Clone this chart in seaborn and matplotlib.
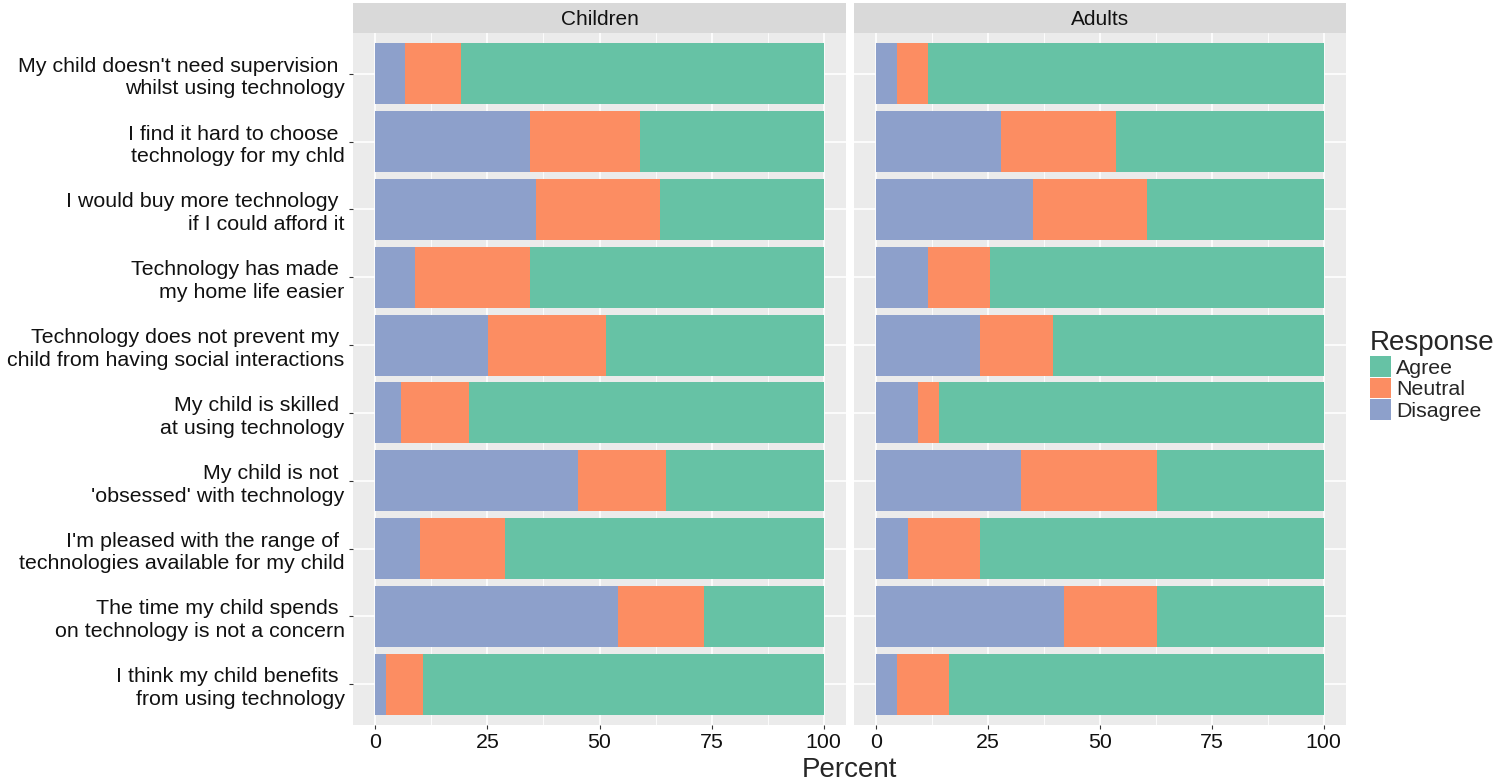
import numpy as np
import pandas as pd
import matplotlib
matplotlib.use("Agg")
import matplotlib.pyplot as plt
from matplotlib.patches import Patch
from matplotlib.ticker import MultipleLocator
import seaborn as sns

sns.set_style("darkgrid")
plt.rcParams['font.family'] = ['Liberation Sans', 'DejaVu Sans']

questions = [
    "My child doesn't need supervision \nwhilst using technology",
    "I find it hard to choose \ntechnology for my chld",
    "I would buy more technology \nif I could afford it",
    "Technology has made \nmy home life easier",
    "Technology does not prevent my \nchild from having social interactions",
    "My child is skilled \nat using technology",
    "My child is not \n'obsessed' with technology",
    "I'm pleased with the range of \ntechnologies available for my child",
    "The time my child spends \non technology is not a concern",
    "I think my child benefits \nfrom using technology",
]
groups = ["Children", "Adults"]
responses = ["Agree", "Neutral", "Disagree"]

children_disagree = [6.7, 34.4, 35.8, 8.8, 25.1, 5.6, 45.3, 10.0, 54.1, 2.3]
children_neutral = [12.3, 24.6, 27.7, 25.8, 26.3, 15.2, 19.5, 18.9, 19.3, 8.4]
children_agree = [81.0, 41.0, 36.5, 65.4, 48.6, 79.2, 35.2, 71.1, 26.6, 89.3]

adults_disagree = [4.7, 27.9, 35.0, 11.5, 23.2, 9.2, 32.4, 7.0, 41.9, 4.6]
adults_neutral = [6.8, 25.6, 25.5, 14.0, 16.4, 4.7, 30.3, 16.1, 20.8, 11.6]
adults_agree = [88.5, 46.5, 39.5, 74.5, 60.4, 86.1, 37.3, 76.9, 37.3, 83.8]

colors = dict(zip(responses, sns.color_palette("Set2", 3).as_hex()))

rows = []
for g, d, n, a in [("Children", children_disagree, children_neutral, children_agree),
                   ("Adults", adults_disagree, adults_neutral, adults_agree)]:
    for q, dv, nv, av in zip(questions, d, n, a):
        rows.append({"group": g, "question": q, "Disagree": dv, "Neutral": nv, "Agree": av})
df = pd.DataFrame(rows)
# cumulative ends for stacking (Disagree first from the left)
df["end_Disagree"] = df["Disagree"]
df["end_Neutral"] = df["Disagree"] + df["Neutral"]
df["end_Agree"] = df["end_Neutral"] + df["Agree"]

W, H = 1500, 782
fig = plt.figure(figsize=(W / 100, H / 100), dpi=100)

panel_x = {"Children": (353, 493), "Adults": (854, 492)}
panel_top, panel_bottom = 33, 725

for g in groups:
    x0, w = panel_x[g]
    ax = fig.add_axes([x0 / W, (H - panel_bottom) / H, w / W, (panel_bottom - panel_top) / H])
    sub = df[df["group"] == g]
    for r in responses:  # Agree (longest) drawn first
        sns.barplot(data=sub, x="end_" + r, y="question", order=questions,
                    color=colors[r], width=0.9, linewidth=0, errorbar=None,
                    saturation=1, ax=ax)
    ax.set_facecolor("#EBEBEB")
    ax.set_xlim(-5, 105)
    ax.set_ylim(9.6, -0.6)
    ax.set_xticks([0, 25, 50, 75, 100])
    ax.set_xticklabels(["0", "25", "50", "75", "100"])
    ax.xaxis.set_minor_locator(MultipleLocator(12.5))
    ax.set_axisbelow(True)
    ax.grid(True, which="major", color="white", linewidth=1.2)
    ax.grid(True, which="minor", axis="x", color="white", linewidth=0.6)
    ax.set_xlabel("")
    ax.set_ylabel("")
    for s in ax.spines.values():
        s.set_visible(False)
    ax.tick_params(axis="x", which="major", length=3, width=0.8, color="#333333",
                   labelsize=15.4, labelcolor="#111111", pad=3, bottom=True)
    ax.tick_params(axis="x", which="minor", length=0)
    if g == "Children":
        ax.tick_params(axis="y", length=3, width=0.8, color="#333333",
                       labelsize=15.4, labelcolor="#111111", pad=3, left=True)
        for lbl in ax.get_yticklabels():
            lbl.set_linespacing(1.25)
    else:
        ax.tick_params(axis="y", length=0, labelleft=False)

    strip = fig.add_axes([x0 / W, (H - panel_top) / H, w / W, 30 / H])
    strip.set_facecolor("#D9D9D9")
    strip.set_xticks([])
    strip.set_yticks([])
    for s in strip.spines.values():
        s.set_visible(False)
    strip.text(0.5, 0.45, g, ha="center", va="center", fontsize=15, color="#111111",
               transform=strip.transAxes)

fig.text(849.5 / W, 1 - 770 / H, "Percent", ha="center", va="center", fontsize=20)

handles = [Patch(facecolor=colors[r], edgecolor="none", label=r) for r in responses]
fig.legend(handles=handles, title="Response", loc="upper left",
           bbox_to_anchor=(1370 / W, 1 - 330 / H), frameon=False,
           fontsize=15.4, title_fontsize=20, handlelength=1.0, handleheight=1.12,
           handletextpad=0.22, labelspacing=0.0, borderpad=0, borderaxespad=0,
           alignment="left")

fig.savefig("out.png", dpi=100)
